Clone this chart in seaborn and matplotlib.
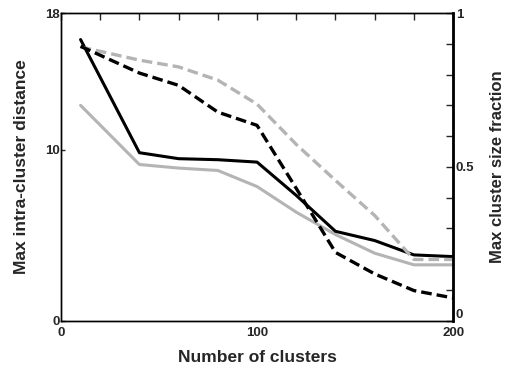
import matplotlib
matplotlib.use("Agg")
import matplotlib.pyplot as plt
import seaborn as sns
import pandas as pd

clusters = [10, 40, 60, 80, 100, 120, 140, 160, 180, 200]
dist_black = [16.45, 9.83, 9.48, 9.42, 9.28, 7.33, 5.23, 4.69, 3.85, 3.75]
dist_gray = [12.60, 9.14, 8.93, 8.79, 7.85, 6.35, 5.04, 3.95, 3.27, 3.27]
frac_black = [0.892, 0.805, 0.765, 0.678, 0.635, 0.43, 0.222, 0.152, 0.098, 0.074]
frac_gray = [0.890, 0.847, 0.825, 0.782, 0.704, 0.573, 0.456, 0.342, 0.199, 0.199]

x_ticks = [0, 100, 200]
y_left_ticks = [0, 10, 18]
y_right_ticks = [0, 0.5, 1]
y_right_labels = ["0", "0.5", "1"]

sns.set_style("white")
plt.rcParams["font.family"] = ["Liberation Sans", "DejaVu Sans"]
plt.rcParams["font.weight"] = "bold"

BLACK = "#000000"
GRAY = "#b4b4b4"

fig = plt.figure(figsize=(5.08, 3.68), dpi=100)
ax = fig.add_axes([0.120, 0.1285, 0.772, 0.836])
ax2 = ax.twinx()

df = pd.DataFrame({"clusters": clusters, "dist_black": dist_black,
                   "dist_gray": dist_gray, "frac_black": frac_black,
                   "frac_gray": frac_gray})

sns.lineplot(data=df, x="clusters", y="dist_gray", ax=ax, color=GRAY, lw=2.2)
sns.lineplot(data=df, x="clusters", y="dist_black", ax=ax, color=BLACK, lw=2.2)
sns.lineplot(data=df, x="clusters", y="frac_gray", ax=ax2, color=GRAY, lw=2.4)
sns.lineplot(data=df, x="clusters", y="frac_black", ax=ax2, color=BLACK, lw=2.4)
for ln in ax2.lines:
    ln.set_dashes((3.2, 1.5))

ax.set_xlim(0, 200)
ax.set_ylim(0, 18)
ax2.set_ylim(0, 1)

ax.set_xticks(x_ticks)
ax.set_xticklabels([str(v) for v in x_ticks])
ax.set_xticks(list(range(0, 201, 20)), minor=True)
ax.set_yticks(y_left_ticks)
ax.set_yticklabels([str(v) for v in y_left_ticks])
ax2.set_yticks(y_right_ticks)
ax2.set_yticklabels(y_right_labels)
ax2.set_yticks([i / 10 for i in range(11)], minor=True)

ax.tick_params(axis="x", which="both", direction="in", top=True, length=5,
               width=1, labelsize=9.5, pad=4.5)
ax.tick_params(axis="y", which="both", direction="in", length=3, width=1,
               labelsize=9.5, pad=1)
ax2.tick_params(axis="y", which="both", direction="in", length=5, width=1,
                labelsize=9.5, pad=2)

for a in (ax, ax2):
    for s in a.spines.values():
        s.set_linewidth(1.0)
        s.set_color("black")
        s.set_visible(True)
ax2.spines["right"].set_linewidth(2.0)

ax.set_xlabel("Number of clusters", fontsize=12.5, fontweight="bold")
ax.set_ylabel("Max intra-cluster distance", fontsize=12.5, fontweight="bold")
ax2.set_ylabel("Max cluster size fraction", fontsize=12, fontweight="bold")
ax.xaxis.set_label_coords(0.5, -0.12)
ax.xaxis.label.set_va("center")
ax.yaxis.set_label_coords(-0.1, 0.5)
ax.yaxis.label.set_va("center")
ax2.yaxis.set_label_coords(1.112, 0.5)
ax2.yaxis.label.set_va("center")

for lab in ax.get_xticklabels() + ax.get_yticklabels() + ax2.get_yticklabels():
    lab.set_fontweight("bold")
# keep right-axis "0" just above the baseline as in the reference
ax2.get_yticklabels()[0].set_va("bottom")

fig.savefig("out.png", dpi=100)
